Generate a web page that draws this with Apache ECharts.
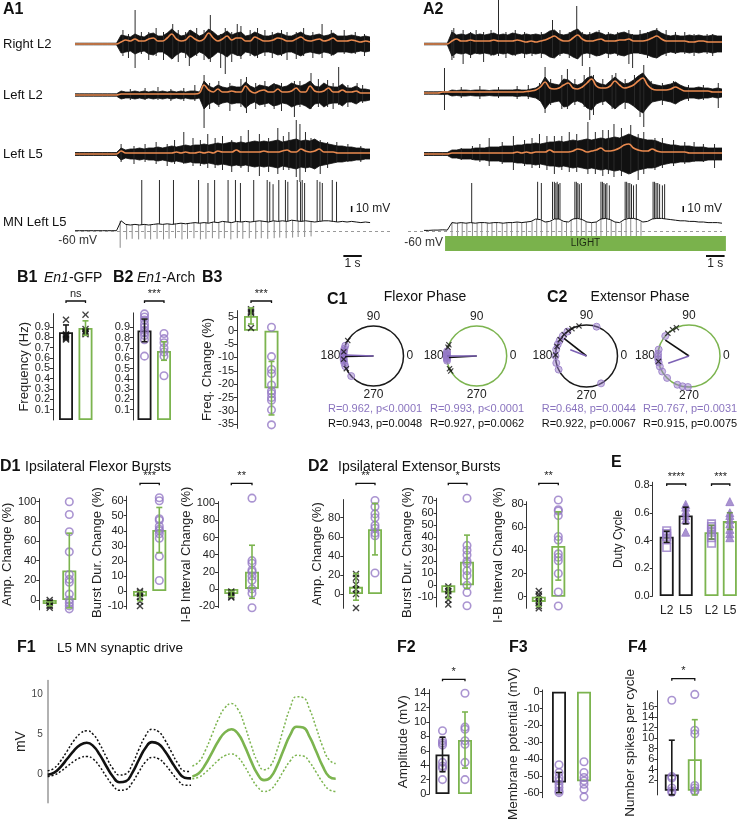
<!DOCTYPE html>
<html><head><meta charset="utf-8">
<script src="https://cdn.jsdelivr.net/npm/echarts@6/dist/echarts.min.js"></script>
<style>html,body{margin:0;padding:0;background:#fff}#c{width:739px;height:822px}</style>
</head><body><div id="c"></div>
<script>
// ---------------- DATA ----------------
const T_STEP = 0.25; // s between envelope samples
// A1 (control) extracellular envelopes (half amplitude) and integrated (orange) traces
const a1RightL2Env = [0.8,0.8,0.8,0.8,0.8,0.8,0.8,0.8,0.8,0.8, 9,8,7,10,8,7,10,11,8,8, 11,15,11,8,9,14,11,8,10,15, 12,8,10,13,9,11,12,8,9,12, 10,8,8,9,11,10,8,8,10,12, 9,8,9,10,8,9,11,8,8,8, 9,8,7,8,7];
const a1RightL2Int = [0,0,0,0,0,0,0,0,0,0, 2,4,3,5,3,3,5,6,3,3, 6,10,5,3,4,8,5,3,5,11, 6,3,5,8,4,6,6,3,3,7, 5,3,3,4,6,5,3,3,5,7, 4,3,4,5,3,4,6,3,3,3, 4,3,2,3,2];
const a1RightL2Spikes = [[2.6,14,12],[2.9,10,14],[3.26,34,24],[3.6,12,10],[4.0,12,16],[4.4,16,12],[4.8,12,16],[5.3,20,15],[5.6,14,18],[6.0,12,14],[6.2,14,22],[6.6,16,12],[7.0,14,16],[7.34,29,18],[7.9,10,24],[8.15,16,30],[8.5,12,18],[8.8,20,12],[9.0,18,15],[9.5,14,12],[9.9,16,14],[10.3,14,12],[10.7,12,14],[11.2,14,12],[11.5,12,16],[12.0,12,15],[12.4,16,12],[12.9,12,14],[13.4,20,14],[13.9,14,12],[14.6,14,10],[15.2,12,10],[15.7,10,12]];
const a1LeftL2Env = [1.2,1.2,1.2,1.2,1.2,1.2,1.2,1.2,1.2,1.2, 4,3,3,4,3,4,3,4,3,4, 3,4,3,4,3,4,4,3, 14,9,7,10,8,7,9,8,8,13, 9,7,10,9,8,11,10,8,9,12, 10,9,11,14,9,8,12,9,8,8, 11,7,7,9,6,6,5];
const a1LeftL2Int = [0,0,0,0,0,0,0,0,0,0, 1,1,1,1,1,1,1,1,1,1,1,1,1,1,1,1,1,2, 10,5,3,6,3,3,4,3,3,9, 4,2,4,5,3,3,6,3,3,4, 7,3,3,9,4,3,4,7,3,3, 5,3,3,4,2,2,2];
const a1LeftL2Spikes = [[3.0,6,5],[3.8,7,5],[4.5,8,5],[5.2,6,6],[5.9,7,6],[6.5,10,6],[7.0,20,33],[7.3,12,14],[7.8,14,12],[8.4,12,16],[9.0,16,12],[9.3,18,18],[9.8,12,14],[10.3,14,12],[10.8,12,14],[11.2,12,16],[11.9,14,22],[12.2,14,12],[12.8,22,14],[13.2,16,12],[13.7,15,12],[14.0,12,14],[14.3,28,10],[14.8,10,12],[15.3,12,8],[15.6,10,8]];
const a1LeftL5Env = [1.5,1.5,1.5,1.5,1.5,1.5,1.5,1.5,1.5,1.5, 6,4,5,5,6,5,6,6,7,6, 7,8,7,8,9,8,9,9,10,9, 10,11,10,11,12,11,12,11,12,13, 12,13,12,13,14,12,13,14,15,13, 14,13,15,12,11,10,9,8,8,7, 7,6,6,5,5];
const a1LeftL5Int = [0,0,0,0,0,0,0,0,0,0, 3,1,1,1,1,1,1,1,1,1, 1,1,2,1,2,1,1,2,1,2, 1,3,2,2,2,4,2,2,2,2, 2,3,2,2,2,3,4,2,2,5, 3,2,3,5,2,2,2,1,1,1, 1,1,1,1,1];
const a1LeftL5Spikes = [[2.5,10,8],[3.2,8,10],[3.8,10,8],[4.4,12,10],[5.0,10,12],[5.4,14,10],[5.9,22,10],[6.4,16,12],[6.8,14,12],[7.2,20,14],[7.6,16,14],[8.0,18,16],[8.5,14,18],[9.0,18,14],[9.4,24,18],[10.0,20,22],[10.5,16,18],[11.0,26,20],[11.3,18,16],[11.6,22,16],[12.0,34,23],[12.2,30,28],[12.5,22,18],[12.8,16,14],[13.3,14,20],[13.7,12,14],[14.2,12,8],[14.8,10,8],[15.5,8,8]];
// A1 motoneuron membrane potential (mV), spikes [t, peak mV], stimulus artefacts [t, mV]
const a1MnV = [-59.5,-59.5,-59.5,-59.5,-59.5,-59.5,-59.5,-59.5,-59.5,-59.5, -43,-49,-50,-49,-50,-49,-50,-49,-48,-49, -48,-49,-48,-47,-48,-47,-46,-47,-46,-47, -45,-46,-44,-45,-46,-44,-45,-44,-45,-44, -43,-44,-45,-43,-44,-43,-44,-42,-43,-44, -43,-44,-45,-44,-43,-43,-44,-45,-44,-45, -44,-45,-46,-45,-46];
const a1MnSpikes = [[3.62,25],[4.58,25],[5.34,25],[6.70,25],[7.21,20],[7.57,25],[8.30,25],[8.70,25],[8.97,20],[9.69,25],[10.42,25],[10.56,22],[10.74,18],[11.05,25],[11.41,25],[11.54,22],[12.05,25],[12.23,22],[12.32,25],[12.45,20],[13.13,25],[13.28,22],[13.41,20],[13.95,25],[14.18,22]];
const a1MnArtifacts = [[2.45,-88],[2.8,-74],[3.1,-73],[3.45,-74],[3.8,-73],[4.1,-74],[4.45,-73],[4.8,-74],[5.1,-73],[5.45,-72],[5.8,-74],[6.1,-73],[6.45,-72],[6.8,-74],[7.1,-73],[7.45,-72],[7.8,-73],[8.1,-72],[8.45,-74],[8.8,-72],[9.1,-73],[9.45,-72],[9.8,-73],[10.1,-72],[10.45,-73],[10.8,-72],[11.1,-71],[11.45,-72],[11.8,-71],[12.1,-70],[12.45,-70],[12.8,-69]];
// A2 (light) traces
const a2RightL2Env = [0.8,0.8,0.8,0.8,0.8,0.8, 12,9,10,9,11,9,10,9,10,11, 9,10,9,11,10,9,10,9,10,9, 10,13,14,10,9,10,13,15,10,9, 10,12,11,9,10,9,11,12,10,9, 9,10,11,13,14,11,9,8,9,8, 8,9,8,9,8,8,9,8,8];
const a2RightL2Int = [0,0,0,0,0,0, 3,5,3,3,4,3,3,3,3,4, 3,3,3,3,4,3,2,3,2,3, 4,6,8,5,3,3,6,9,5,3, 3,4,5,3,3,3,4,4,5,3, 3,3,4,6,8,5,3,3,3,3, 3,2,2,3,3,2,2,2,2];
const a2RightL2Spikes = [[1.5,14,16],[1.6,16,14],[2.1,14,20],[2.5,12,14],[2.8,14,10],[3.2,12,18],[3.6,14,12],[4.0,44,12],[4.4,12,14],[4.9,14,12],[5.4,12,14],[5.8,10,12],[6.3,12,14],[6.9,24,14],[7.3,14,12],[7.8,12,14],[8.2,38,14],[8.5,12,22],[8.9,12,14],[9.4,14,12],[9.9,12,14],[10.4,12,12],[11.0,14,20],[11.2,10,24],[11.6,14,10],[12.0,12,14],[12.5,16,14],[13.0,14,12],[13.5,12,10],[14.0,12,10],[14.5,10,12],[15.2,10,10],[15.5,10,12]];
const a2LeftL2Env = [1.2,1.2,1.2,1.2,1.5,1.2, 3,2.5,3,3,2.5,3,3,3,2.5,3,3,3,3,3,3.5,3,3,4, 5,8,16,10,9,8,14,13,9,8, 10,15,17,11,9,8,12,16,12,9, 10,13,17,20,14,9,8,7,8,9, 11,8,6,5,5,6,5,5,4,5,4];
const a2LeftL2Int = [0,0,0,0,1,1, 1,1,1,1,1,1,1,1,1,1,1,1,1,1,1,1,1.5,2, 3,6,11,5,4,5,8,10,5,4, 6,10,14,7,5,5,7,12,8,5, 6,8,12,15,8,4,3,3,3,4, 6,4,2,2,2,2,2,2,1,1,1];
const a2LeftL2Spikes = [[1.1,25,17],[2.0,6,5],[3.0,7,6],[4.0,6,5],[5.0,7,6],[5.6,8,6],[6.2,10,8],[6.5,26,20],[6.8,14,12],[7.4,18,16],[7.7,24,16],[8.1,14,12],[8.6,18,14],[8.9,26,27],[9.1,18,22],[9.6,14,12],[10.1,18,16],[10.3,20,14],[10.8,14,16],[11.3,18,14],[11.6,16,24],[11.8,28,34],[12.2,12,10],[12.8,10,12],[13.4,12,10],[14.2,8,8],[15.0,8,7],[15.8,10,15]];
const a2LeftL5Env = [1.5,1.5,1.5,1.5,1.5,1.5, 4,4,5,5,5,6,6,6,7,7, 7,8,8,8,9,9,10,10,11,10, 11,12,12,13,12,13,14,13,14,15, 14,15,16,15,16,17,16,18,20,18, 16,15,14,14,13,11,10,9,9,8, 8,8,7,7,7,6,6,6,6];
const a2LeftL5Int = [0,0,0,0,0,0, 1,1,1,1,1,1,1,1,1,1, 1,1,1,1,2,1,2,1,2,2, 2,4,2,2,2,2,3,5,4,2, 3,4,6,3,3,4,6,9,10,6, 4,3,3,5,3,2,2,2,2,2, 2,1,1,1,1,1,1,1,1];
const a2LeftL5Spikes = [[2.0,6,6],[2.6,8,6],[3.0,10,8],[3.5,16,12],[4.2,12,10],[4.8,18,16],[5.4,14,12],[5.8,16,14],[6.2,20,14],[6.6,18,16],[7.0,18,20],[7.4,18,16],[7.8,22,18],[8.2,20,18],[8.8,32,20],[9.2,22,20],[9.6,24,22],[9.9,24,20],[10.2,30,23],[10.6,26,22],[11.1,29,20],[11.5,20,26],[11.8,22,20],[12.4,16,16],[12.8,16,14],[13.4,14,12],[14.0,12,10],[14.5,12,8],[15.0,10,8],[15.6,10,14]];
const a2MnV = [-59,-59,-58.5,-58.5,-58,-58.5, -46,-47,-46,-47,-46,-47,-46,-46,-47,-46, -46,-47,-46,-46,-45,-46,-45,-44,-40,-41, -45,-44,-40,-40,-44,-45,-40,-39,-41,-45, -46,-45,-40,-39,-41,-45,-46,-41,-39,-39, -41,-45,-44,-40,-39,-39,-40,-41,-42,-43, -43,-44,-44,-45,-45,-46,-46,-46,-47];
const a2MnSpikes = [[2.56,20],[6.1,22],[6.3,20],[6.9,22],[7.0,22],[7.08,20],[7.15,22],[7.22,18],[7.3,20],[8.1,22],[8.18,22],[8.26,20],[8.34,18],[8.45,20],[9.5,22],[9.58,22],[9.66,20],[9.74,18],[9.82,20],[9.95,16],[10.8,22],[10.88,22],[10.96,20],[11.05,20],[11.14,18],[11.25,16],[11.4,18],[12.3,22],[12.38,22],[12.46,20],[12.55,20],[12.65,18],[12.8,16],[12.92,18]];
const a2MnArtifacts = [[1.5,-72],[1.8,-71],[2.05,-70],[2.3,-71],[2.6,-70],[2.85,-71],[3.1,-70],[3.4,-71],[3.65,-70],[3.9,-71],[4.2,-70],[4.45,-71],[4.7,-70],[5.0,-71],[5.25,-70],[5.5,-71],[5.8,-70],[6.05,-70],[6.3,-71],[6.6,-70],[6.85,-70],[7.1,-71],[7.4,-70],[7.65,-70],[7.9,-71],[8.2,-70],[8.45,-70],[8.7,-71],[9.0,-70],[9.25,-70],[9.5,-71],[9.8,-70],[10.05,-70],[10.3,-70],[10.6,-69],[10.85,-70],[11.1,-69],[11.4,-69],[11.65,-68]];
// B
const b1Means = [0.85, 0.89], b1Sds = [0.07, 0.07];
const b1Ctrl = [0.97, 0.83, 0.82, 0.81, 0.80, 0.79, 0.78];
const b1Light = [1.02, 0.88, 0.86, 0.85, 0.84, 0.83];
const b2Means = [0.87, 0.67], b2Sds = [0.11, 0.09];
const b2Ctrl = [1.03, 1.0, 0.97, 0.93, 0.9, 0.87, 0.85, 0.82, 0.78, 0.62];
const b2Light = [0.84, 0.79, 0.75, 0.7, 0.66, 0.62, 0.43];
const b3Means = [5.5, -21.5], b3Sds = [3, 10];
const b3Gfp = [8, 7.5, 7, 6.6, 1];
const b3Arch = [1.3, -9.7, -14.5, -16, -20.3, -22.5, -23.5, -25, -26, -29.6, -35.2];
// C  phases (deg) and mean vectors [R, angle]
const c1CtrlPurple = [160,166,170,174,177,179,181,183,186,189,194,200,222];
const c1CtrlBlack = [149,172,186,205];
const c1CtrlVecPurple = [0.962,178], c1CtrlVecBlack = [0.943,181];
const c1LightPurple = [171,174,176,178,179,180,181,182,184,186,189];
const c1LightBlack = [158,163,205,210];
const c1LightVecPurple = [0.993,180], c1LightVecBlack = [0.927,183];
const c2CtrlPurple = [71,128,140,150,158,168,180,193,206,298];
const c2CtrlBlack = [104,118,126,136,148,162,178];
const c2CtrlVecPurple = [0.56,159], c2CtrlVecBlack = [0.92,142];
const c2LightPurple = [140,168,176,181,186,192,200,210,225,248,258,268];
const c2LightBlack = [114,122,133,190];
const c2LightVecPurple = [0.71,199], c2LightVecBlack = [0.92,146];
const cStats = [["R=0.962, p<0.0001","R=0.943, p=0.0048"],["R=0.993, p<0.0001","R=0.927, p=0.0062"],["R=0.648, p=0.0044","R=0.922, p=0.0067"],["R=0.767, p=0.0031","R=0.915, p=0.0075"]];
// D1
const d1AmpMeans = [-4, 30], d1AmpSds = [2, 38];
const d1AmpGfp = [0, -2, -3, -5, -6, -8];
const d1AmpArch = [100, 87, 69.5, 49, 26, 21, 18, 6, 0, -3, -6, -9];
const d1DurMeans = [-3.5, 40.5], d1DurSds = [3, 15];
const d1DurGfp = [0, -1, -2, -4, -7, -10];
const d1DurArch = [62, 60, 48, 47, 43, 41, 40, 38, 35, 23, 7];
const d1IbiMeans = [-6, 20], d1IbiSds = [3, 31];
const d1IbiGfp = [-3, -5, -7, -9, -10];
const d1IbiArch = [106, 33, 30, 22, 20, 15, 10, 0, -5, -22];
// D2
const d2AmpMeans = [7.5, 68], d2AmpSds = [14, 27];
const d2AmpGfp = [21, 17, 10, 5, 0, -14.7];
const d2AmpArch = [98, 91.5, 84, 80, 72, 69, 64, 61, 22];
const d2DurMeans = [-6, 19.5], d2DurSds = [5, 22];
const d2DurGfp = [-1, -3, -5, -8, -12, -16];
const d2DurArch = [72, 33, 29, 25, 20, 18, 12, 8, 0, -6, -17];
const d2IbiMeans = [-4.5, 43.8], d2IbiSds = [4, 29.5];
const d2IbiGfp = [5, 2, 0, -3, -5, -8, -10];
const d2IbiArch = [83.5, 75, 74, 70, 52, 49, 37, 34, 31, 20, 4, -8];
// E
const eCats = ['L2', 'L5'];
const eCtrlMeans = [0.427, 0.58], eCtrlSds = [0.04, 0.06];
const eCtrlL2 = [0.47, 0.45, 0.43, 0.41, 0.35];
const eCtrlL5 = [0.66, 0.64, 0.61, 0.58, 0.55, 0.46];
const eLightMeans = [0.46, 0.54], eLightSds = [0.05, 0.06];
const eLightL2 = [0.52, 0.5, 0.48, 0.46, 0.44, 0.42, 0.38];
const eLightL5 = [0.68, 0.6, 0.58, 0.55, 0.52, 0.48, 0.45, 0.42];
// F1 synaptic drive (mV), sampled every half unit along the two cycles
const F1_STEP = 0.5;
const f1CtrlMean = [-0.1,0.17,0.9,1.9,2.9,3.63,3.9,3.49,2.39,0.97,-0.31,-1.03,-0.91,0.18,1.78,3.25,3.98,3.76,2.85,1.57,0.33,-0.46,-0.55];
const f1CtrlUp = [0.4,0.73,1.65,2.9,4.15,5.07,5.4,4.94,3.71,2.11,0.68,-0.13,0.02,1.25,3.08,4.75,5.58,5.31,4.25,2.74,1.29,0.36,0.3];
const f1CtrlLow = [-0.3,-0.13,0.33,0.95,1.58,2.03,2.2,1.85,0.9,-0.32,-1.42,-2.04,-1.94,-1.05,0.27,1.49,2.08,1.91,1.2,0.2,-0.78,-1.39,-1.4];
const f1LightMean = [-0.3,0.1,1.18,2.65,4.13,5.2,5.6,5.04,3.54,1.64,0.0,-0.77,-0.41,1.02,3.01,4.85,5.9,5.8,4.65,2.84,0.98,-0.34,-0.6];
const f1LightUp = [1.0,1.52,2.95,4.9,6.85,8.28,8.8,8.07,6.13,3.66,1.55,0.53,1.03,2.99,5.71,8.23,9.66,9.55,8.09,5.8,3.43,1.75,1.3];
const f1LightLow = [-0.6,-0.39,0.18,0.95,1.73,2.29,2.5,2.09,0.99,-0.41,-1.61,-2.18,-1.94,-0.97,0.38,1.62,2.33,2.26,1.48,0.23,-1.05,-1.96,-2.2];
// F2-F4
const f2Means = [5.5, 7.5], f2Sds = [2.4, 3.9];
const f2Ctrl = [8.8, 7.4, 7.1, 6.8, 4.4, 3.9, 3.6, 2.0];
const f2Light = [14, 9.3, 9.0, 7.4, 6.9, 4.4, 2.0];
const f3Means = [-54, -53.2], f3Sds = [6, null];
const f3Ctrl = [-43.4, -48, -51, -53, -55, -57, -59, -60];
const f3Light = [-41.6, -48, -51, -53, -55, -58, -62.5];
const f4Means = [3.1, 6.0], f4Sds = [6.5, 7.5];
const f4Ctrl = [17.2, 2.7, 2.4, 0.5, 0, -0.3];
const f4Light = [18.3, 11.5, 10.8, 1.0, 0.5, 0, -0.1];

// ---------------- BUILD ----------------
const FONT = '"Liberation Sans", Arial, sans-serif';
const GREEN = '#7cb44f', LIGHTGREEN = '#7ab24c', PURPLE = '#9579c6', ORANGE = '#ea8a4f', BLACK = '#1a1a1a';
const grid = [], xAxis = [], yAxis = [], series = [], graphic = [];
function addGrid(g, xa, ya) {
  const i = grid.length;
  grid.push(Object.assign({containLabel: false}, g));
  xAxis.push(Object.assign({gridIndex: i}, xa));
  yAxis.push(Object.assign({gridIndex: i}, ya));
  return i;
}
const hid = (min, max) => ({type: 'value', min, max, show: false});
function txt(x, y, text, o) {
  o = o || {};
  const st = {text, fill: o.color || '#111', fontSize: o.size || 13, fontFamily: FONT, fontWeight: o.bold ? 'bold' : 'normal',
    align: o.align || 'left', verticalAlign: 'middle', textAlign: o.align || 'left', textVerticalAlign: 'middle'};
  if (o.rich) st.rich = o.rich;
  graphic.push({type: 'text', x, y, silent: true, style: st});
}
function lineEl(a, b, color, w) {
  return {type: 'line', shape: {x1: a[0], y1: a[1], x2: b[0], y2: b[1]}, style: {stroke: color, lineWidth: w}};
}
// --- A traces ---
function spikeRender(p, api) {
  const t = api.value(0);
  return lineEl(api.coord([t, api.value(1)]), api.coord([t, -api.value(2)]), '#2a2a2a', 1);
}
function addTrace(left, width, cy, env, integ, spikes) {
  const H = 36;
  const gi = addGrid({left, top: cy - H, width, height: 2 * H}, hid(0, 16), hid(-H, H));
  const base = {xAxisIndex: gi, yAxisIndex: gi, silent: true};
  series.push(Object.assign({type: 'line', data: env.map((v, i) => [i * T_STEP, v]), symbol: 'none', lineStyle: {color: '#111', width: 0.8}, areaStyle: {color: '#111', opacity: 1}, z: 2}, base));
  series.push(Object.assign({type: 'line', data: env.map((v, i) => [i * T_STEP, -v]), symbol: 'none', lineStyle: {color: '#111', width: 0.8}, areaStyle: {color: '#111', opacity: 1}, z: 2}, base));
  series.push(Object.assign({type: 'custom', data: spikes, renderItem: spikeRender, z: 2, clip: false}, base));
  series.push(Object.assign({type: 'line', data: integ.map((v, i) => [i * T_STEP, v]), symbol: 'none', smooth: 0.4, lineStyle: {color: ORANGE, width: 1.6}, z: 5}, base));
}
function mnRender(vm, color, w) {
  return (p, api) => {
    const t = api.value(0);
    const b = vm[Math.max(0, Math.min(vm.length - 1, Math.round(t / T_STEP)))];
    return lineEl(api.coord([t, b]), api.coord([t, api.value(1)]), color, w);
  };
}
function addMN(o) {
  const gi = addGrid({left: o.left, top: 177, width: o.width, height: 75}, hid(o.xmin, o.xmax), hid(-95, 30));
  const base = {xAxisIndex: gi, yAxisIndex: gi, silent: true};
  series.push(Object.assign({type: 'custom', data: o.art, renderItem: mnRender(o.vm, '#8c8c8c', 1), z: 3, clip: false}, base));
  series.push(Object.assign({type: 'line', data: o.vm.map((v, i) => [i * T_STEP, v]), symbol: 'none', lineStyle: {color: '#111', width: 1}, z: 4,
    markLine: {silent: true, symbol: ['none', 'none'], label: {show: false}, lineStyle: {type: [3, 3], color: '#999', width: 1}, data: [{yAxis: -60}]}}, base));
  series.push(Object.assign({type: 'custom', data: o.spikes, renderItem: mnRender(o.vm, '#2a2a2a', 1), z: 4, clip: false}, base));
  series.push(Object.assign({type: 'custom', data: [[0, 0]], clip: false, z: 6, renderItem: (p, api) => {
    const a = api.coord([o.sbT, o.sbV]), b = api.coord([o.sbT, o.sbV + 10]);
    const c = api.coord([o.tbT, -101.7]), d = api.coord([o.tbT + 1, -101.7]);
    const ch = [lineEl(a, b, '#111', 1.5),
      {type: 'text', x: a[0] + 4, y: (a[1] + b[1]) / 2, style: {text: '10 mV', fill: '#222', fontSize: 12, fontFamily: FONT, align: 'left', verticalAlign: 'middle'}},
      lineEl(c, d, '#111', 2),
      {type: 'text', x: (c[0] + d[0]) / 2, y: c[1] + 2, style: {text: '1 s', fill: '#222', fontSize: 12, fontFamily: FONT, align: 'center', verticalAlign: 'top'}}];
    if (o.light) {
      const l1 = api.coord([o.light[0], -68.3]), l2 = api.coord([o.light[1], -93.3]);
      ch.unshift({type: 'rect', shape: {x: l1[0], y: l1[1], width: l2[0] - l1[0], height: l2[1] - l1[1]}, style: {fill: LIGHTGREEN}});
      ch.push({type: 'text', x: (l1[0] + l2[0]) / 2, y: (l1[1] + l2[1]) / 2, style: {text: 'LIGHT', fill: '#1d2a12', fontSize: 10, fontFamily: FONT, align: 'center', verticalAlign: 'middle'}});
    }
    return {type: 'group', children: ch};
  }}, base));
}
addTrace(75, 295, 44, a1RightL2Env, a1RightL2Int, a1RightL2Spikes);
addTrace(75, 295, 95, a1LeftL2Env, a1LeftL2Int, a1LeftL2Spikes);
addTrace(75, 295, 154, a1LeftL5Env, a1LeftL5Int, a1LeftL5Spikes);
addMN({left: 75, width: 315, xmin: 0, xmax: 17.08, vm: a1MnV, spikes: a1MnSpikes, art: a1MnArtifacts, sbT: 15.0, sbV: -28.3, tbT: 14.55});
addTrace(424, 298, 44, a2RightL2Env, a2RightL2Int, a2RightL2Spikes);
addTrace(424, 298, 93, a2LeftL2Env, a2LeftL2Int, a2LeftL2Spikes);
addTrace(424, 298, 154, a2LeftL5Env, a2LeftL5Int, a2LeftL5Spikes);
addMN({left: 408, width: 314, xmin: -0.86, xmax: 16, vm: a2MnV, spikes: a2MnSpikes, art: a2MnArtifacts, sbT: 13.92, sbV: -28.3, tbT: 15.14, light: [1.13, 16.21]});

// --- bar panels ---
const XPATH = 'path://M0,1.4L1.4,0L5,3.6L8.6,0L10,1.4L6.4,5L10,8.6L8.6,10L5,6.4L1.4,10L0,8.6L3.6,5Z';
const SYM = {
  x: {symbol: XPATH, symbolSize: 7, itemStyle: {color: '#111'}},
  circle: {symbol: 'circle', symbolSize: 7.5, itemStyle: {color: 'rgba(255,255,255,0)', borderColor: PURPLE, borderWidth: 1.6}},
  square: {symbol: 'rect', symbolSize: 7.5, itemStyle: {color: 'rgba(255,255,255,0)', borderColor: PURPLE, borderWidth: 1.6}},
  tri: {symbol: 'triangle', symbolSize: 8, itemStyle: {color: PURPLE, borderColor: PURPLE, borderWidth: 1}}
};
const errRender = (color, lo) => (p, api) => {
  const x = api.value(0), m = api.value(1), s = api.value(2);
  const t = api.coord([x, m + s]), b = api.coord([x, Math.max(lo, m - s)]);
  return {type: 'group', children: [lineEl(t, b, color, 1.6), lineEl([t[0] - 3, t[1]], [t[0] + 3, t[1]], color, 1.6), lineEl([b[0] - 3, b[1]], [b[0] + 3, b[1]], color, 1.6)]};
};
const sigRender = (label) => (p, api) => {
  const y = api.value(1);
  const a = api.coord([0, y]), b = api.coord([1, y]);
  return {type: 'group', children: [
    {type: 'polyline', shape: {points: [[a[0], a[1] + 2], [a[0], a[1]], [b[0], b[1]], [b[0], b[1] + 2]]}, style: {stroke: '#111', lineWidth: 1.3, fill: null}},
    {type: 'text', x: (a[0] + b[0]) / 2, y: a[1] - 2, style: {text: label, fill: '#222', fontSize: 11, fontFamily: FONT, align: 'center', verticalAlign: 'bottom'}}]};
};
function barPanel(c) {
  const k = (c.pB - c.pA) / (c.vB - c.vA);
  const px = v => c.pA + (v - c.vA) * k;
  const band = c.c2 - c.c1, left = c.c1 - band / 2;
  const top = px(c.ymax), bottom = px(c.ymin);
  const gi = addGrid({left, top, width: band * 2, height: bottom - top},
    {type: 'category', data: c.cats || ['a', 'b'], axisLine: {show: false}, axisTick: {show: false},
      axisLabel: {show: !!c.cats, fontSize: 12, color: '#222', margin: 9, fontFamily: FONT}},
    {type: 'value', min: c.ymin, max: c.ymax, show: c.showY !== false, offset: left - c.axisX, splitLine: {show: false},
      axisLine: {show: true, lineStyle: {color: '#333', width: 1}},
      axisTick: {show: true, length: 3, customValues: c.ticks, lineStyle: {color: '#333'}},
      axisLabel: {customValues: c.ticks, fontSize: 11, color: '#222', margin: 3, fontFamily: FONT, formatter: c.fmt || (v => String(v))},
      name: c.name || '', nameLocation: 'middle', nameRotate: 90, nameGap: c.name ? (c.axisX - c.nameX - 7) : 0,
      nameTextStyle: {fontSize: c.nameSize || 13, color: '#222', fontFamily: FONT}});
  const base = {xAxisIndex: gi, yAxisIndex: gi, silent: true};
  series.push(Object.assign({type: 'bar', barWidth: c.barW || 14, z: 2,
    data: c.means.map((m, i) => ({value: m, itemStyle: {color: 'rgba(255,255,255,0)', borderColor: c.colors[i], borderWidth: 1.8}}))}, base));
  c.pts.forEach((arr, i) => {
    const s = SYM[c.sym[i]];
    series.push(Object.assign({type: 'scatter', data: arr.map(v => [i, v]), symbol: s.symbol, symbolSize: s.symbolSize, itemStyle: s.itemStyle, z: 3, clip: false}, base));
  });
  c.means.forEach((m, i) => {
    if (c.sds[i] == null) return;
    series.push(Object.assign({type: 'custom', data: [[i, m, c.sds[i]]], renderItem: errRender(c.errColors[i], c.ymin), z: 4, clip: false}, base));
  });
  if (c.sig) {
    const yv = c.vA + (c.sigPx - c.pA) / k;
    series.push(Object.assign({type: 'custom', data: [[0, yv]], renderItem: sigRender(c.sig), z: 5, clip: false}, base));
  }
}
const fmt1 = v => String(Math.round(v * 10) / 10);
barPanel({c1: 66, c2: 85.5, axisX: 53, vA: 1, pA: 316.7, vB: 0, pB: 420, ymin: 0, ymax: 1.03, ticks: [0,0.1,0.2,0.3,0.4,0.5,0.6,0.7,0.8,0.9,1], fmt: fmt1,
  name: 'Frequency (Hz)', nameX: 25, colors: [BLACK, GREEN], errColors: [BLACK, GREEN], means: b1Means, sds: b1Sds, pts: [b1Ctrl, b1Light], sym: ['x', 'x'], sig: 'ns', sigPx: 301});
barPanel({c1: 144.5, c2: 164, axisX: 133, vA: 1, pA: 317, vB: 0, pB: 420, ymin: 0, ymax: 1.04, ticks: [0,0.1,0.2,0.3,0.4,0.5,0.6,0.7,0.8,0.9,1], fmt: fmt1,
  colors: [BLACK, GREEN], errColors: [BLACK, GREEN], means: b2Means, sds: b2Sds, pts: [b2Ctrl, b2Light], sym: ['circle', 'circle'], sig: '***', sigPx: 301});
barPanel({c1: 251, c2: 271.5, axisX: 237, vA: 5, pA: 317.3, vB: -35, pB: 424.3, ymin: -36.5, ymax: 7.5, ticks: [5,0,-5,-10,-15,-20,-25,-30,-35],
  name: 'Freq. Change (%)', nameX: 208, colors: [GREEN, GREEN], errColors: [GREEN, GREEN], means: b3Means, sds: b3Sds, pts: [b3Gfp, b3Arch], sym: ['x', 'circle'], sig: '***', sigPx: 301});
// D1
barPanel({c1: 49.7, c2: 69.3, axisX: 39.3, vA: 100, pA: 501.7, vB: 0, pB: 600, ymin: -10, ymax: 103, ticks: [0,20,40,60,80,100],
  name: 'Amp. Change (%)', nameX: 12, colors: [GREEN, GREEN], errColors: [GREEN, GREEN], means: d1AmpMeans, sds: d1AmpSds, pts: [d1AmpGfp, d1AmpArch], sym: ['x', 'circle']});
barPanel({c1: 140, c2: 159.3, axisX: 126.7, vA: 60, pA: 500.7, vB: -10, pB: 606, ymin: -12, ymax: 63, ticks: [-10,0,10,20,30,40,50,60],
  name: 'Burst Dur. Change (%)', nameX: 100, colors: [GREEN, GREEN], errColors: [GREEN, GREEN], means: d1DurMeans, sds: d1DurSds, pts: [d1DurGfp, d1DurArch], sym: ['x', 'circle'], sig: '***', sigPx: 483.3});
barPanel({c1: 231.3, c2: 252, axisX: 218, vA: 100, pA: 503.3, vB: -20, pB: 606, ymin: -22, ymax: 102, ticks: [-20,0,20,40,60,80,100],
  name: 'I-B Interval Change (%)', nameX: 192, colors: [GREEN, GREEN], errColors: [GREEN, GREEN], means: d1IbiMeans, sds: d1IbiSds, pts: [d1IbiGfp, d1IbiArch], sym: ['x', 'circle'], sig: '**', sigPx: 483.3});
// D2
barPanel({c1: 356, c2: 375, axisX: 343.3, vA: 80, pA: 517.7, vB: 0, pB: 594, ymin: -15, ymax: 99, ticks: [0,20,40,60,80],
  name: 'Amp. Change (%)', nameX: 316.7, colors: [GREEN, GREEN], errColors: [GREEN, GREEN], means: d2AmpMeans, sds: d2AmpSds, pts: [d2AmpGfp, d2AmpArch], sym: ['x', 'circle'], sig: '**', sigPx: 483.3});
barPanel({c1: 448.3, c2: 467, axisX: 436.7, vA: 70, pA: 500.7, vB: -10, pB: 597.3, ymin: -18, ymax: 72, ticks: [-10,0,10,20,30,40,50,60,70],
  name: 'Burst Dur. Change (%)', nameX: 410, colors: [GREEN, GREEN], errColors: [GREEN, GREEN], means: d2DurMeans, sds: d2DurSds, pts: [d2DurGfp, d2DurArch], sym: ['x', 'circle'], sig: '*', sigPx: 483.3});
barPanel({c1: 538.8, c2: 558.3, axisX: 526.7, vA: 80, pA: 504, vB: 0, pB: 596.7, ymin: -10, ymax: 82, ticks: [0,20,40,60,80],
  name: 'I-B Interval Change (%)', nameX: 498, colors: [GREEN, GREEN], errColors: [GREEN, GREEN], means: d2IbiMeans, sds: d2IbiSds, pts: [d2IbiGfp, d2IbiArch], sym: ['x', 'circle'], sig: '**', sigPx: 483.3});
// E
barPanel({c1: 666.7, c2: 685.7, axisX: 652.7, vA: 0.8, pA: 485, vB: 0, pB: 596, ymin: 0, ymax: 0.82, ticks: [0,0.2,0.4,0.6,0.8], fmt: v => v.toFixed(1),
  name: 'Duty Cycle', nameX: 618, nameSize: 12, cats: eCats, colors: [BLACK, BLACK], errColors: [BLACK, BLACK], means: eCtrlMeans, sds: eCtrlSds, pts: [eCtrlL2, eCtrlL5], sym: ['square', 'tri'], sig: '****', sigPx: 484});
barPanel({c1: 712, c2: 731.3, axisX: 702.35, showY: false, vA: 0.8, pA: 485, vB: 0, pB: 596, ymin: 0, ymax: 0.82, ticks: [0,0.2,0.4,0.6,0.8],
  cats: eCats, colors: [GREEN, GREEN], errColors: ['#6f8f5a', '#6f8f5a'], means: eLightMeans, sds: eLightSds, pts: [eLightL2, eLightL5], sym: ['square', 'tri'], sig: '***', sigPx: 484});
// F2-F4
barPanel({c1: 442.5, c2: 465, axisX: 429.3, vA: 14, pA: 693.3, vB: 0, pB: 794, ymin: 0, ymax: 14.5, ticks: [0,2,4,6,8,10,12,14],
  name: 'Amplitude (mV)', nameX: 405, nameSize: 13.5, colors: [BLACK, GREEN], errColors: [BLACK, GREEN], means: f2Means, sds: f2Sds, pts: [f2Ctrl, f2Light], sym: ['circle', 'circle'], sig: '*', sigPx: 679.3});
barPanel({c1: 559, c2: 584, axisX: 542.7, vA: 0, pA: 691.7, vB: -60, pB: 794, ymin: -63, ymax: 1, ticks: [-60,-50,-40,-30,-20,-10,0],
  name: 'Membrane potential (mV)', nameX: 513.3, nameSize: 13.5, colors: [BLACK, GREEN], errColors: [BLACK, GREEN], means: f3Means, sds: f3Sds, pts: [f3Ctrl, f3Light], sym: ['circle', 'circle']});
barPanel({c1: 671.8, c2: 694.8, axisX: 657.3, vA: 18, pA: 696, vB: 0, pB: 790.7, ymin: -0.8, ymax: 19, ticks: [0,2,4,6,8,10,12,14,16,18],
  name: 'Number spikes per cycle', nameX: 630, nameSize: 13.5, colors: [BLACK, GREEN], errColors: [BLACK, GREEN], means: f4Means, sds: f4Sds, pts: [f4Ctrl, f4Light], sym: ['circle', 'circle'], sig: '*', sigPx: 678.7});

// F1
const F1_GREEN_OFFSET = 11.1;
const f1gi = addGrid({left: 47.7, top: 680.4, width: 288, height: 122.4}, hid(0, 22.1),
  {type: 'value', min: -3.6, max: 11.7, axisLine: {show: true, lineStyle: {color: '#999', width: 1.5}}, axisTick: {show: false},
   axisLabel: {customValues: [0, 5, 10], fontSize: 10, color: '#444', margin: 5, fontFamily: FONT}, splitLine: {show: false},
   name: 'mV', nameLocation: 'middle', nameRotate: 90, nameGap: 19, nameTextStyle: {fontSize: 14, color: '#222', fontFamily: FONT}});
function f1Line(arr, off, color, w, dotted) {
  series.push({type: 'line', xAxisIndex: f1gi, yAxisIndex: f1gi, silent: true, smooth: true, symbol: 'none',
    data: arr.map((v, i) => [off + i * F1_STEP, v]), lineStyle: {color, width: w, type: dotted ? [2, 2] : 'solid'}, z: dotted ? 2 : 3});
}
f1Line(f1CtrlUp, 0, '#111', 1.5, true); f1Line(f1CtrlLow, 0, '#111', 1.5, true); f1Line(f1CtrlMean, 0, '#111', 2.6, false);
f1Line(f1LightUp, F1_GREEN_OFFSET, GREEN, 1.5, true); f1Line(f1LightLow, F1_GREEN_OFFSET, GREEN, 1.5, true); f1Line(f1LightMean, F1_GREEN_OFFSET, GREEN, 2.6, false);

// C polar
const polarCfg = [
  {center: [373.5, 356], r: 30, ring: BLACK, purple: c1CtrlPurple, black: c1CtrlBlack, vp: c1CtrlVecPurple, vb: c1CtrlVecBlack, tx: 328},
  {center: [476.7, 356], r: 30, ring: GREEN, purple: c1LightPurple, black: c1LightBlack, vp: c1LightVecPurple, vb: c1LightVecBlack, tx: 430},
  {center: [586.5, 356], r: 31, ring: BLACK, purple: c2CtrlPurple, black: c2CtrlBlack, vp: c2CtrlVecPurple, vb: c2CtrlVecBlack, tx: 541.7},
  {center: [689, 356], r: 31, ring: GREEN, purple: c2LightPurple, black: c2LightBlack, vp: c2LightVecPurple, vb: c2LightVecBlack, tx: 643}
];
const polar = polarCfg.map(c => ({center: c.center, radius: c.r}));
const angleAxis = polarCfg.map((c, k) => ({polarIndex: k, type: 'value', min: 0, max: 360, interval: 90, startAngle: 0, clockwise: false,
  axisLine: {lineStyle: {color: c.ring, width: 1.5}}, axisTick: {show: false}, splitLine: {show: false},
  axisLabel: {fontSize: 12, color: '#222', margin: 3, fontFamily: FONT, formatter: v => (v >= 360 ? '' : String(v))}}));
const radiusAxis = polarCfg.map((c, k) => ({polarIndex: k, type: 'value', min: 0, max: 1, show: false}));
polarCfg.forEach((c, k) => {
  series.push({type: 'scatter', coordinateSystem: 'polar', polarIndex: k, silent: true, data: c.purple.map(a => [1, a]), symbol: 'circle', symbolSize: 7,
    itemStyle: {color: 'rgba(150,122,200,0.6)', borderColor: PURPLE, borderWidth: 1}, z: 3});
  series.push({type: 'scatter', coordinateSystem: 'polar', polarIndex: k, silent: true, data: c.black.map(a => [1, a]), symbol: XPATH, symbolSize: 6,
    itemStyle: {color: '#111'}, z: 4});
  series.push({type: 'line', coordinateSystem: 'polar', polarIndex: k, silent: true, data: [[0, c.vb[1]], [c.vb[0], c.vb[1]]], symbol: 'none', lineStyle: {color: '#111', width: 1.6}, z: 5});
  series.push({type: 'line', coordinateSystem: 'polar', polarIndex: k, silent: true, data: [[0, c.vp[1]], [c.vp[0], c.vp[1]]], symbol: 'none', lineStyle: {color: '#7d62b5', width: 1.6}, z: 6});
  txt(c.tx, 409, cStats[k][0], {size: 11, color: '#8a74bf'});
  txt(c.tx, 423.5, cStats[k][1], {size: 11, color: '#111'});
});

// texts
txt(3, 10, 'A1', {bold: true, size: 16});
txt(423, 10, 'A2', {bold: true, size: 16});
txt(3, 44, 'Right L2'); txt(3, 95, 'Left L2'); txt(3, 154, 'Left L5'); txt(3, 222, 'MN Left L5');
txt(97, 241, '-60 mV', {size: 12, align: 'right', color: '#333'});
txt(443, 243, '-60 mV', {size: 12, align: 'right', color: '#333'});
const italic = {i: {fontStyle: 'italic', fontSize: 14, fontFamily: FONT}};
txt(17, 278, 'B1', {bold: true, size: 16});
txt(44, 278, '{i|En1}-GFP', {size: 14, rich: italic});
txt(113, 278, 'B2', {bold: true, size: 16});
txt(137, 278, '{i|En1}-Arch', {size: 14, rich: italic});
txt(202, 278, 'B3', {bold: true, size: 16});
txt(327, 300, 'C1', {bold: true, size: 16});
txt(425, 297, 'Flexor Phase', {size: 14, align: 'center'});
txt(547, 298, 'C2', {bold: true, size: 16});
txt(640, 297, 'Extensor Phase', {size: 14, align: 'center'});
txt(0, 467, 'D1', {bold: true, size: 16});
txt(25, 467, 'Ipsilateral Flexor Bursts', {size: 14});
txt(308, 467, 'D2', {bold: true, size: 16});
txt(338, 467, 'Ipsilateral Extensor Bursts', {size: 14});
txt(611, 463, 'E', {bold: true, size: 16});
txt(17, 648, 'F1', {bold: true, size: 16});
txt(57, 648, 'L5 MN synaptic drive', {size: 13.5});
txt(397, 648, 'F2', {bold: true, size: 16});
txt(509, 648, 'F3', {bold: true, size: 16});
txt(628, 648, 'F4', {bold: true, size: 16});

const chart = echarts.init(document.getElementById('c'), null, {renderer: 'canvas'});
chart.setOption({animation: false, backgroundColor: '#fff', textStyle: {fontFamily: FONT},
  grid, xAxis, yAxis, polar, angleAxis, radiusAxis, series, graphic});
</script></body></html>
